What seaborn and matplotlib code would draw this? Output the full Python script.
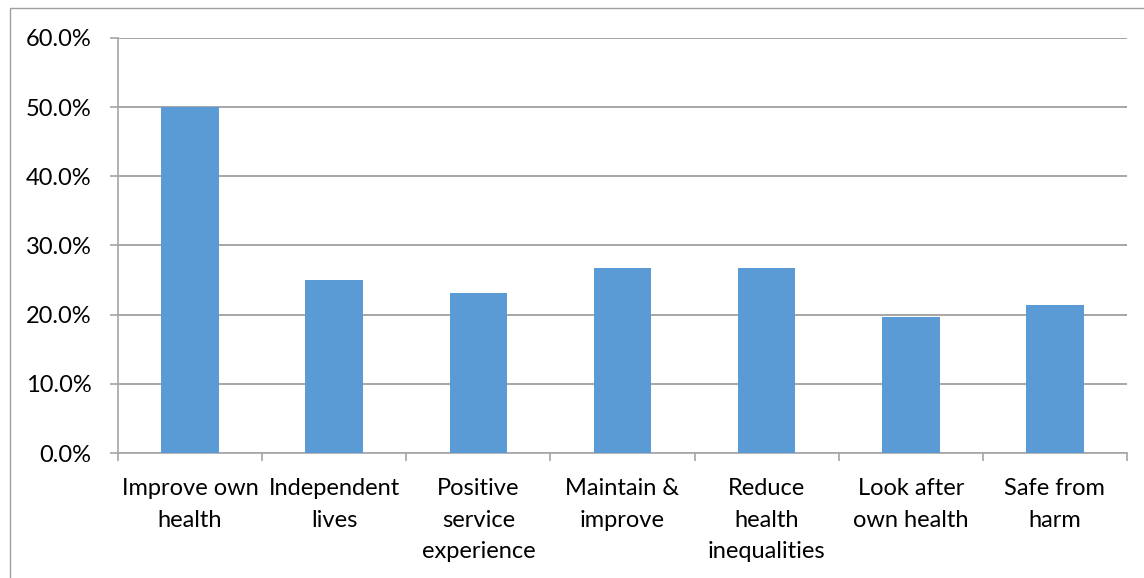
import matplotlib
matplotlib.use("Agg")
import matplotlib.pyplot as plt
from matplotlib.patches import Rectangle
from matplotlib.ticker import FuncFormatter, FixedLocator
import seaborn as sns
import pandas as pd

categories = [
    "Improve own\nhealth",
    "Independent\nlives",
    "Positive\nservice\nexperience",
    "Maintain &\nimprove",
    "Reduce\nhealth\ninequalities",
    "Look after\nown health",
    "Safe from\nharm",
]
shares = [0.500, 0.250, 0.232, 0.268, 0.268, 0.196, 0.214]
y_ticks = [0.0, 0.1, 0.2, 0.3, 0.4, 0.5, 0.6]

df = pd.DataFrame({"outcome": categories, "share": shares})

sns.set_style("white")
plt.rcParams["font.family"] = ["Lato", "DejaVu Sans"]

W, H = 1144, 578
fig = plt.figure(figsize=(W / 100, H / 100), dpi=100)
ax = fig.add_axes([118 / W, (H - 453) / H, (1127 - 118) / W, (453 - 38) / H])

grid_col = "#a6a6a6"
bar_col = "#5b9bd5"

sns.barplot(data=df, x="outcome", y="share", color=bar_col, width=0.4,
            saturation=1, edgecolor="none", ax=ax, zorder=3)

ax.set_xlim(-0.5, len(categories) - 0.5)
ax.set_ylim(0, 0.6)
ax.set_yticks(y_ticks)
ax.yaxis.set_major_formatter(FuncFormatter(lambda v, _: f"{v * 100:.1f}%"))
ax.grid(axis="y", color=grid_col, linewidth=1.4, zorder=0)
ax.grid(axis="x", visible=False)

# category boundary ticks on the x axis
ax.xaxis.set_minor_locator(FixedLocator([i - 0.5 for i in range(len(categories) + 1)]))
ax.tick_params(axis="x", which="minor", length=6, width=1.2, color=grid_col, bottom=True)
ax.tick_params(axis="x", which="major", length=0, pad=18, labelsize=17, labelcolor="#000000")
ax.tick_params(axis="y", which="major", length=6, width=1.2, color=grid_col, left=True,
               pad=13, labelsize=17, labelcolor="#000000")
for lbl in ax.get_xticklabels():
    lbl.set_linespacing(1.63)
    lbl.set_verticalalignment("top")

ax.set_xlabel("")
ax.set_ylabel("")
sns.despine(ax=ax, top=True, right=True)
for side in ("left", "bottom"):
    ax.spines[side].set_color(grid_col)
    ax.spines[side].set_linewidth(1.2)

# chart frame
fig.add_artist(Rectangle((10 / W, -0.1), 1.2, (H - 8) / H + 0.1, transform=fig.transFigure,
                         fill=False, edgecolor="#a0a0a0", linewidth=1.0, clip_on=False))

fig.savefig("out.png", dpi=100, facecolor="white")
